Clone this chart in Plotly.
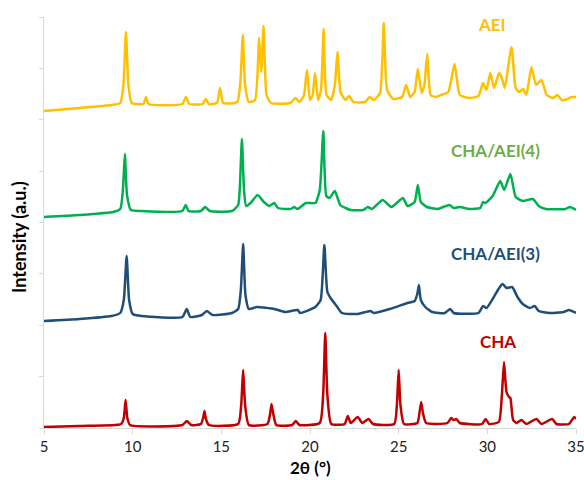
import plotly.graph_objects as go

# ---- data (2theta in degrees, intensity in arbitrary units) ----
cha_x = [5.0, 7.0, 9.0, 9.35, 9.5, 9.6, 9.7, 9.85, 12.8, 13.05, 13.3, 13.85, 13.97, 14.05, 14.13, 14.3,
         15.95, 16.12, 16.23, 16.34, 16.55, 17.6, 17.75, 17.83, 17.93, 18.1, 19.0, 19.2, 19.4,
         20.55, 20.74, 20.86, 20.98, 21.2, 21.95, 22.13, 22.3, 22.69, 22.95, 23.3, 23.55,
         24.75, 24.9, 25.0, 25.1, 25.3, 26.05, 26.18, 26.27, 26.38, 26.55, 27.75, 27.96, 28.1, 28.25, 28.45,
         29.7, 29.9, 30.1, 30.65, 30.82, 30.94, 31.08, 31.22, 31.3, 31.45, 31.65, 31.92, 32.2,
         32.77, 33.05, 33.65, 33.9, 34.6, 34.9, 35.0]
cha_y = [1, 2, 3, 4, 10, 28, 10, 3, 3, 7, 3, 4, 10, 17, 9, 3,
         4, 23, 58, 23, 3, 4, 14, 24, 14, 3, 3, 7, 3,
         5, 33, 95, 33, 4, 4, 12, 5, 11, 5, 9, 4,
         4, 23, 58, 23, 4, 5, 16, 26, 14, 5, 5, 10, 8, 9, 5,
         4, 9, 4, 6, 33, 66, 36, 31, 30, 8, 5, 8, 4,
         9, 4, 9, 4, 4, 11, 9]

cha_aei3_x = [5.0, 7.0, 8.8, 9.3, 9.5, 9.66, 9.8, 10.0, 10.5, 12.8, 13.05, 13.25, 13.9, 14.18, 14.5,
              15.6, 15.95, 16.1, 16.23, 16.36, 16.55, 17.0, 18.0, 18.6, 19.3, 19.45, 20.3, 20.6, 20.81,
              20.98, 21.2, 21.5, 21.8, 22.7, 23.4, 23.6, 24.5, 25.5, 25.9, 26.05, 26.14, 26.25, 26.5,
              26.9, 27.6, 27.91, 28.1, 29.5, 29.76, 29.95, 30.3, 30.6, 30.85, 31.1, 31.4, 31.7, 32.0,
              32.4, 32.67, 32.9, 33.5, 34.3, 34.6, 35.0]
cha_aei3_y = [107, 109, 112, 115, 128, 172, 128, 114, 112, 111, 119, 111, 113, 117, 113,
              115, 119, 138, 184, 133, 119, 121, 119, 116, 118, 115, 121, 128, 183,
              136, 129, 122, 115, 114, 117, 115, 119, 125, 127, 134, 143, 128, 121,
              116, 115, 119, 115, 115, 122, 120, 129, 138, 144, 140, 141, 131, 124,
              120, 122, 117, 115, 116, 118, 115]

cha_aei4_x = [5.0, 7.0, 8.9, 9.3, 9.45, 9.56, 9.68, 9.9, 10.5, 12.8, 12.99, 13.15, 13.85, 14.09, 14.35,
              15.6, 15.95, 16.05, 16.16, 16.28, 16.4, 16.7, 17.04, 17.4, 17.7, 17.98, 18.2, 18.9, 19.11,
              19.3, 19.77, 20.3, 20.55, 20.75, 20.92, 21.1, 21.4, 21.7, 22.0, 22.3, 23.0, 23.26, 23.5,
              24.1, 24.6, 25.24, 25.5, 25.9, 26.08, 26.25, 26.6, 27.2, 27.87, 28.1, 28.43, 29.0, 29.6,
              29.76, 29.9, 30.3, 30.73, 30.95, 31.3, 31.6, 32.0, 32.57, 32.9, 33.3, 34.4, 34.65, 35.0]
cha_aei4_y = [211, 213, 216, 219, 238, 274, 233, 218, 217, 217, 223, 217, 217, 221, 217,
              217, 223, 243, 289, 238, 222, 226, 233, 226, 222, 225, 220, 219, 221,
              219, 225, 225, 238, 297, 232, 230, 237, 223, 220, 218, 218, 221, 219,
              228, 221, 230, 222, 226, 243, 226, 221, 219, 223, 220, 221, 219, 220,
              226, 225, 232, 247, 238, 254, 231, 227, 229, 222, 219, 219, 221, 218]

aei_x = [5.0, 7.0, 8.8, 9.3, 9.48, 9.62, 9.76, 9.95, 10.6, 10.75, 10.9, 12.8, 13.0, 13.2, 13.95, 14.12,
         14.3, 14.75, 14.93, 15.1, 15.9, 16.08, 16.21, 16.34, 16.55, 16.9, 17.13, 17.25, 17.38, 17.55,
         17.8, 18.9, 19.17, 19.4, 19.65, 19.83, 20.0, 20.15, 20.28, 20.45, 20.62, 20.77, 20.93, 21.2,
         21.4, 21.55, 21.72, 22.0, 22.2, 22.45, 23.1, 23.37, 23.6, 23.95, 24.16, 24.35, 24.7, 25.2,
         25.42, 25.65, 25.9, 26.08, 26.3, 26.45, 26.61, 26.8, 27.1, 27.4, 27.8, 28.15, 28.45, 29.0,
         29.5, 29.76, 29.95, 30.17, 30.38, 30.66, 30.8, 30.98, 31.36, 31.6, 31.8, 32.02, 32.2, 32.49,
         32.75, 33.05, 33.35, 33.7, 33.95, 34.2, 34.55, 34.75, 35.0]
aei_y = [317, 320, 323, 325, 343, 396, 343, 325, 324, 331, 324, 324, 331, 324, 324, 329,
         324, 325, 340, 325, 326, 348, 393, 343, 326, 328, 390, 356, 402, 333,
         325, 325, 330, 326, 332, 358, 328, 333, 355, 328, 338, 399, 333, 328,
         343, 376, 336, 328, 332, 326, 326, 331, 328, 335, 405, 338, 329, 331,
         343, 331, 336, 359, 335, 343, 374, 333, 331, 333, 336, 364, 333, 330,
         332, 345, 338, 355, 340, 355, 351, 340, 381, 340, 336, 339, 333, 361,
         343, 348, 333, 330, 333, 328, 329, 331, 331]

series_names = ["CHA", "CHA/AEI(3)", "CHA/AEI(4)", "AEI"]
series_x = [cha_x, cha_aei3_x, cha_aei4_x, aei_x]
series_y = [cha_y, cha_aei3_y, cha_aei4_y, aei_y]
line_colors = ["#C00000", "#1F4E79", "#00B050", "#FFC000"]
label_colors = ["#C00000", "#1F4E79", "#70AD47", "#FFC000"]
label_x = [30.6, 30.45, 30.45, 30.25]
label_y = [87, 175, 278, 404]

x_ticks = [5, 10, 15, 20, 25, 30, 35]

FONT = "Lato, 'Open Sans', sans-serif"

fig = go.Figure()
for name, xs, ys, col in zip(series_names, series_x, series_y, line_colors):
    fig.add_trace(go.Scatter(x=xs, y=ys, mode="lines", name=name,
                             line=dict(color=col, width=2.5, shape="spline", smoothing=0.5)))

for name, lx, ly, col in zip(series_names, label_x, label_y, label_colors):
    fig.add_annotation(x=lx, y=ly, text="<b>%s</b>" % name, showarrow=False,
                       font=dict(family=FONT, size=17, color=col),
                       xanchor="center", yanchor="middle")

fig.add_annotation(xref="paper", yref="paper", x=-0.047, y=0.465, text="<b>Intensity (a.u.)</b>",
                   textangle=-90, showarrow=False, font=dict(family=FONT, size=18, color="#000000"),
                   xanchor="center", yanchor="middle")
fig.add_annotation(xref="paper", yref="paper", x=0.5, y=-0.095, text="<b>2θ (°)</b>",
                   showarrow=False, font=dict(family=FONT, size=17, color="#000000"),
                   xanchor="center", yanchor="middle", borderpad=0)

fig.update_layout(
    width=584, height=480,
    margin=dict(l=44, r=8, t=17, b=52, autoexpand=False),
    plot_bgcolor="white", paper_bgcolor="white",
    showlegend=False,
    font=dict(family=FONT, size=15, color="#222222"),
    xaxis=dict(range=[5, 35], tickmode="array", tickvals=x_ticks, ticktext=[str(t) for t in x_ticks],
               showline=True, linecolor="#D9D9D9", linewidth=1, ticks="outside", ticklen=5,
               tickcolor="#D9D9D9", showgrid=False, zeroline=False, automargin=False,
               ticklabeloverflow="allow",
               tickfont=dict(family=FONT, size=15, color="#222222")),
    yaxis=dict(range=[0, 411], tick0=0, dtick=51.375, showline=True, linecolor="#D9D9D9",
               linewidth=1, ticks="outside", ticklen=4, tickcolor="#D9D9D9", automargin=False,
               showticklabels=False, showgrid=False, zeroline=False),
)

fig.write_html("out.html")
